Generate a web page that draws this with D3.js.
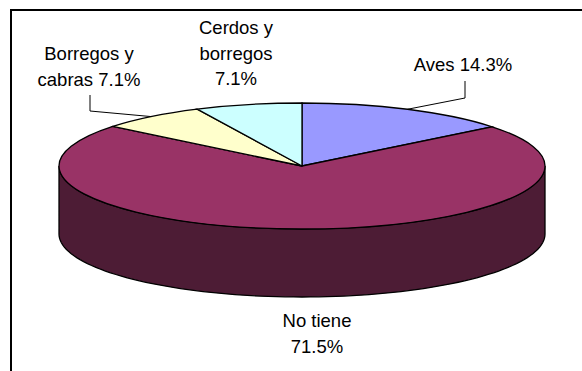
<!DOCTYPE html>
<html lang="es">
<head>
    <meta charset="UTF-8">
    <title>Pie chart</title>
    <script src="https://d3js.org/d3.v7.min.js"></script>
    <style>
        html, body { margin: 0; padding: 0; background: #fff; }
        svg { display: block; }
        text { font-family: "Liberation Sans", Arial, sans-serif; font-size: 18.5px; fill: #000; text-anchor: middle; }
        .slice { stroke: #000; stroke-width: 1.3px; vector-effect: non-scaling-stroke; }
        .leader { fill: none; stroke: #000; stroke-width: 1px; }
    </style>
</head>
<body>
    <svg id="chart"></svg>
    <script>
        // Values, clockwise from 12 o'clock
        const categories = ["Aves", "No tiene", "Borregos y cabras", "Cerdos y borregos"];
        const values = [14.3, 71.5, 7.1, 7.1];
        const colors = ["#9999ff", "#993366", "#ffffcc", "#ccffff"];
        const labelLines = [["Aves 14.3%"], ["No tiene", "71.5%"], ["Borregos y", "cabras 7.1%"], ["Cerdos y", "borregos", "7.1%"]];

        const width = 582, height = 371;
        const cx = 302, cy = 166, rx = 243, ry = 63, depth = 68;
        const sideColor = "#4d1c35";

        const svg = d3.select("#chart").attr("width", width).attr("height", height);

        // frame: only the top and left edges fall inside the picture
        svg.append("path")
            .attr("d", d3.line()([[11, height], [11, 10], [width, 10]]))
            .attr("fill", "none").attr("stroke", "#000").attr("stroke-width", 2);

        const arcs = d3.pie().sort(null).value(d => d)(values);

        const px = a => cx + rx * Math.sin(a);
        const py = (a, dy) => cy - ry * Math.cos(a) + dy;

        // side wall, front half of the ellipse
        const front = d3.range(90, 271, 2).map(d => d * Math.PI / 180);
        const wall = front.map(a => [px(a), py(a, 0)])
            .concat(front.slice().reverse().map(a => [px(a), py(a, depth)]));
        svg.append("path")
            .attr("class", "slice")
            .attr("d", d3.line()(wall) + "Z")
            .attr("fill", sideColor);

        // top face: circular arcs squashed into an ellipse
        const arc = d3.arc().innerRadius(0).outerRadius(rx);
        svg.append("g")
            .attr("transform", "translate(" + cx + "," + cy + ") scale(1," + (ry / rx) + ")")
            .selectAll("path")
            .data(arcs)
            .enter().append("path")
            .attr("class", "slice")
            .attr("d", arc)
            .attr("fill", (d, i) => colors[i]);

        // leader lines go from the middle of the slice rim to under the label
        const midAngle = d => (d.startAngle + d.endAngle) / 2;
        const leaders = [
            { slice: 0, x: 465, top: 81, elbow: 98 },
            { slice: 2, x: 90, top: 95, elbow: 111 }
        ];
        leaders.forEach(l => {
            const a = midAngle(arcs[l.slice]);
            svg.append("path")
                .attr("class", "leader")
                .attr("d", d3.line()([[l.x, l.top], [l.x, l.elbow], [px(a), py(a, 0)]]));
        });

        // labels
        const labelPos = [
            { x: 463, y: 71 },
            { x: 317, y: 327 },
            { x: 89, y: 60 },
            { x: 236, y: 34 }
        ];
        labelLines.forEach((lines, i) => {
            lines.forEach((t, j) => {
                svg.append("text")
                    .attr("x", labelPos[i].x)
                    .attr("y", labelPos[i].y + j * 25.5)
                    .text(t);
            });
        });
    </script>
</body>
</html>
